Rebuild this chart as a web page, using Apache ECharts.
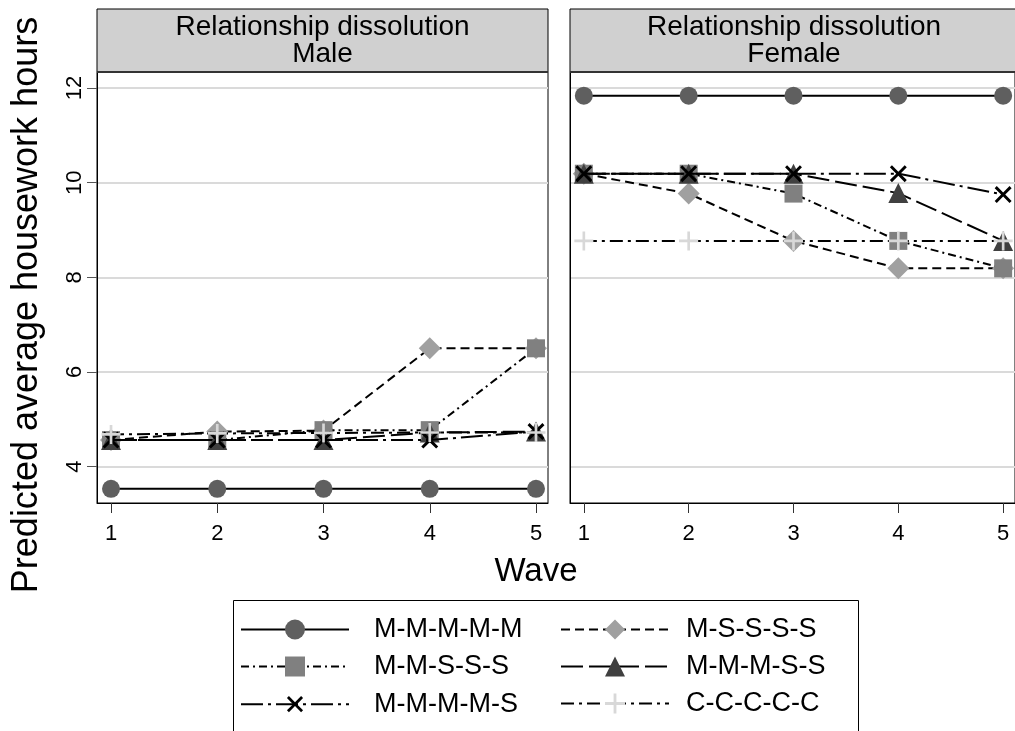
<!DOCTYPE html>
<html><head><meta charset="utf-8">
<script src="https://cdn.jsdelivr.net/npm/echarts@6/dist/echarts.min.js"></script>
<style>html,body{margin:0;padding:0;background:#fff}#c{width:1015px;height:731px}</style>
</head><body><div id="c"></div>
<script>
// ---- data ----
const waves = [1, 2, 3, 4, 5];
const yTicks = [4, 6, 8, 10, 12];
const seriesNames = ['M-M-M-M-M', 'M-S-S-S-S', 'M-M-S-S-S', 'M-M-M-S-S', 'M-M-M-M-S', 'C-C-C-C-C'];
const panelTitles = ['Relationship dissolution\nMale', 'Relationship dissolution\nFemale'];

const male_MMMMM = [3.53, 3.53, 3.53, 3.53, 3.53];
const male_MSSSS = [4.56, 4.74, 4.76, 6.50, 6.50];
const male_MMSSS = [4.56, 4.56, 4.77, 4.77, 6.50];
const male_MMMSS = [4.56, 4.56, 4.56, 4.72, 4.74];
const male_MMMMS = [4.56, 4.56, 4.56, 4.56, 4.74];
const male_CCCCC = [4.68, 4.70, 4.71, 4.72, 4.72];

const female_MMMMM = [11.84, 11.84, 11.84, 11.84, 11.84];
const female_MSSSS = [10.19, 9.77, 8.77, 8.19, 8.19];
const female_MMSSS = [10.19, 10.19, 9.77, 8.77, 8.19];
const female_MMMSS = [10.19, 10.19, 10.19, 9.78, 8.77];
const female_MMMMS = [10.19, 10.19, 10.19, 10.19, 9.75];
const female_CCCCC = [8.77, 8.77, 8.77, 8.77, 8.77];

const maleData = [male_MMMMM, male_MSSSS, male_MMSSS, male_MMMSS, male_MMMMS, male_CCCCC];
const femaleData = [female_MMMMM, female_MSSSS, female_MMSSS, female_MMMSS, female_MMMMS, female_CCCCC];

// ---- styles ----
const FONT = 'Liberation Sans, Arial, sans-serif';
const plusPath = 'path://M4.3,0H5.7V4.3H10V5.7H5.7V10H4.3V5.7H0V4.3H4.3Z';
const styles = [
  { symbol: 'circle', size: 18, color: '#5f5f5f', dash: 'solid', rot: 0 },
  { symbol: 'diamond', size: 22, color: '#a0a0a0', dash: [9, 5], rot: 0 },
  { symbol: 'rect', size: 18, color: '#808080', dash: [8, 4, 2, 4], rot: 0 },
  { symbol: 'triangle', size: 20, color: '#404040', dash: [22, 6], rot: 0 },
  { symbol: plusPath, size: 21, color: '#000000', dash: [22, 5, 3, 5], rot: 45 },
  { symbol: plusPath, size: 19, color: '#d8d8d8', dash: [13, 5, 3, 5], rot: 0 }
];

const xMin = 0.868, xMax = 5.113, yMin = 3.23, yMax = 12.34;

function makeSeries(dataArr, idx) {
  return dataArr.map((vals, i) => ({
    name: seriesNames[i],
    type: 'line',
    xAxisIndex: idx, yAxisIndex: idx,
    data: waves.map((w, j) => [w, vals[j]]),
    symbol: styles[i].symbol,
    symbolSize: styles[i].size,
    symbolRotate: styles[i].rot,
    showAllSymbol: true,
    animation: false,
    z: 2 + i,
    itemStyle: { color: styles[i].color, borderWidth: 0 },
    lineStyle: { color: '#000', width: 2, type: styles[i].dash },
    emphasis: { disabled: true }
  }));
}

function xAx(gi) {
  return {
    type: 'value', gridIndex: gi, min: xMin, max: xMax,
    axisLine: { show: true, onZero: false, lineStyle: { color: '#000', width: 1 } },
    axisTick: { show: true, length: 10, lineStyle: { color: '#333' }, customValues: waves },
    axisLabel: { show: true, fontSize: 22, fontFamily: FONT, color: '#000', margin: 20, customValues: waves },
    splitLine: { show: false }
  };
}
function yAx(gi, showLabels) {
  return {
    type: 'value', gridIndex: gi, min: yMin, max: yMax,
    axisLine: { show: true, onZero: false, lineStyle: { color: '#000', width: 1 } },
    axisTick: { show: showLabels, length: 10, lineStyle: { color: '#555' }, customValues: yTicks },
    axisLabel: { show: showLabels, rotate: 90, fontSize: 22, fontFamily: FONT, color: '#000', margin: 11, customValues: yTicks },
    splitLine: { show: true, lineStyle: { color: '#dadada', width: 2 } }
  };
}

const panels = [{ left: 97, width: 451 }, { left: 570, width: 448 }];

const graphics = [];
panels.forEach((p, i) => {
  graphics.push({ type: 'rect', shape: { x: p.left, y: 9, width: p.width, height: 63 },
    style: { fill: '#d0d0d0', stroke: '#000', lineWidth: 1 }, z: 10 });
  graphics.push({ type: 'line', shape: { x1: p.left, y1: 72, x2: p.left + p.width, y2: 72 },
    style: { stroke: '#333', lineWidth: 2 }, z: 11 });
  graphics.push({ type: 'text', x: p.left + p.width / 2, y: 41, z: 12,
    style: { text: panelTitles[i], fontSize: 28, fontFamily: FONT, fill: '#000', align: 'center', verticalAlign: 'middle', lineHeight: 27 } });
});
graphics.push({ type: 'text', x: 27, y: 305, rotation: Math.PI / 2, z: 12,
  style: { text: 'Predicted average housework hours', fontSize: 36, fontFamily: FONT, fill: '#000', align: 'center', verticalAlign: 'middle' } });
graphics.push({ type: 'text', x: 536, y: 572, z: 12,
  style: { text: 'Wave', fontSize: 33, fontFamily: FONT, fill: '#000', align: 'center', verticalAlign: 'middle' } });
graphics.push({ type: 'rect', shape: { x: 233.5, y: 600.5, width: 625, height: 150 },
  style: { fill: '#fff', stroke: '#000', lineWidth: 1 }, z: 0 });

// legend layout: 2 columns x 3 rows, one legend per entry
const colLeft = [235, 555];
const colPad = [20, 12];
const rowTop = [611, 648, 685];
const legends = seriesNames.map((name, k) => ({
  orient: 'horizontal',
  left: colLeft[k % 2], top: rowTop[Math.floor(k / 2)],
  itemWidth: 108, itemHeight: 25,
  textStyle: { fontSize: 27, fontFamily: FONT, color: '#000', padding: [0, 0, 0, colPad[k % 2]] },
  selectedMode: false, z: 5,
  data: [name]
}));

const option = {
  backgroundColor: '#fff',
  animation: false,
  grid: panels.map(p => ({ left: p.left, top: 72, width: p.width, height: 431, show: true,
    borderColor: '#000', borderWidth: 1, backgroundColor: '#fff', containLabel: false })),
  xAxis: [xAx(0), xAx(1)],
  yAxis: [yAx(0, true), yAx(1, false)],
  legend: legends,
  graphic: graphics,
  series: makeSeries(maleData, 0).concat(makeSeries(femaleData, 1))
};

const chart = echarts.init(document.getElementById('c'), null, { renderer: 'canvas' });
chart.setOption(option);
</script>
</body></html>
